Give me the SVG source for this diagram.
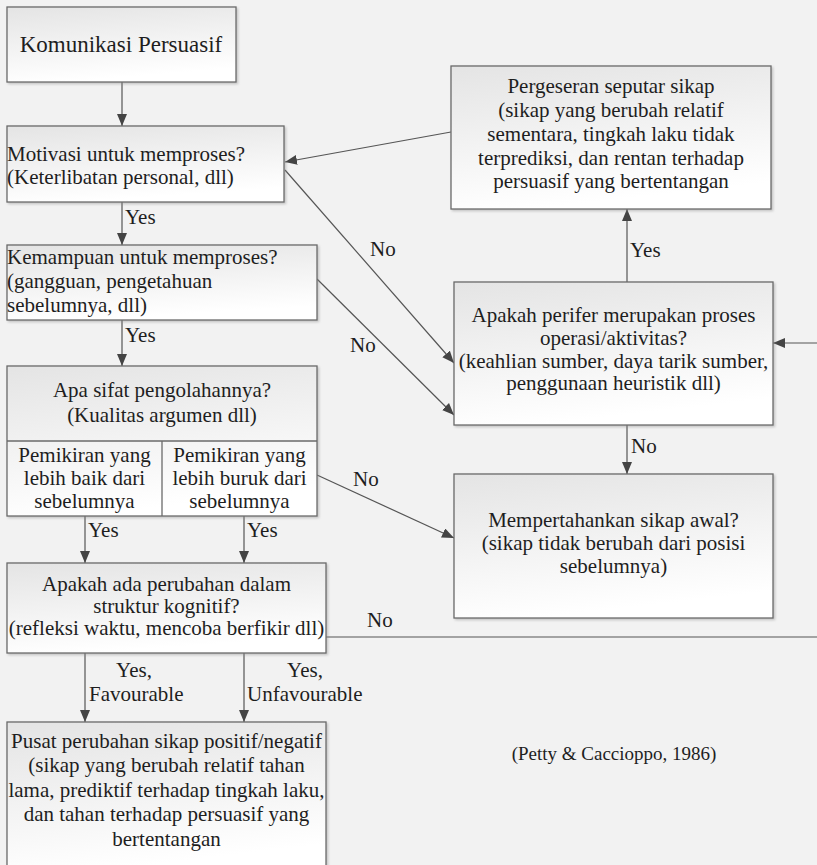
<svg xmlns="http://www.w3.org/2000/svg" width="817" height="865" viewBox="0 0 817 865">
  <style>
    .box { fill: url(#boxFill); stroke: #6a6a6a; stroke-width: 1.3; filter: url(#shadow); }
    .div { stroke: #6a6a6a; stroke-width: 1.3; fill: none; }
    .t { font-family: 'Liberation Serif', 'DejaVu Serif', serif; font-size: 21px; fill: #1e1e1e; }
    .c { text-anchor: middle; }
    .edge { stroke: #555; stroke-width: 1.2; fill: none; marker-end: url(#arrow); }
  </style>
  <defs>
    <linearGradient id="boxFill" x1="0" y1="0" x2="0.25" y2="1">
      <stop offset="0" stop-color="#e4e4e4"/>
      <stop offset="1" stop-color="#ffffff"/>
    </linearGradient>
    <filter id="shadow" x="-5%" y="-5%" width="115%" height="115%">
      <feDropShadow dx="1.5" dy="1.5" stdDeviation="1" flood-color="#888" flood-opacity="0.45"/>
    </filter>
    <marker id="arrow" markerUnits="userSpaceOnUse" markerWidth="14" markerHeight="12" refX="12" refY="5" orient="auto">
      <path d="M0,0 L12,5 L0,10 Z" fill="#444"/>
    </marker>
  </defs>

  <rect width="817" height="865" fill="#f2f2f2"/>

  <!-- connectors -->
  <g id="connectors">
    <line class="edge" x1="122" y1="82" x2="122" y2="126"/>
    <line class="edge" x1="122" y1="202" x2="122" y2="245"/>
    <line class="edge" x1="122" y1="320" x2="122" y2="366"/>
    <line class="edge" x1="85" y1="516" x2="85" y2="563"/>
    <line class="edge" x1="244" y1="516" x2="244" y2="563"/>
    <line class="edge" x1="85" y1="653" x2="85" y2="722"/>
    <line class="edge" x1="244" y1="653" x2="244" y2="722"/>
    <line class="edge" x1="285" y1="170" x2="454" y2="363"/>
    <line class="edge" x1="317" y1="279" x2="454" y2="415"/>
    <line class="edge" x1="317" y1="475" x2="454" y2="538"/>
    <line class="edge" x1="627" y1="282" x2="627" y2="209"/>
    <line class="edge" x1="627" y1="425" x2="627" y2="474"/>
    <line class="edge" x1="451" y1="132" x2="285" y2="162"/>
    <polyline class="edge" points="326,637 822,637 822,343 773,343"/>

    <text class="t" x="125" y="224">Yes</text>
    <text class="t" x="125" y="342">Yes</text>
    <text class="t" x="88" y="537">Yes</text>
    <text class="t" x="247" y="537">Yes</text>
    <text class="t c" x="134" y="677">Yes,</text>
    <text class="t" x="89" y="701">Favourable</text>
    <text class="t c" x="305" y="677">Yes,</text>
    <text class="t" x="247" y="701">Unfavourable</text>
    <text class="t" x="370" y="256">No</text>
    <text class="t" x="350" y="352">No</text>
    <text class="t" x="353" y="486">No</text>
    <text class="t" x="630" y="257">Yes</text>
    <text class="t" x="631" y="453">No</text>
    <text class="t" x="367" y="627">No</text>
  </g>

  <g id="komunikasi">
    <rect class="box" x="7" y="7" width="229" height="75"/>
    <text class="t c" x="121" y="52" style="font-size:23px">Komunikasi Persuasif</text>
  </g>

  <g id="motivasi">
    <rect class="box" x="7" y="126" width="277" height="76"/>
    <text class="t" x="7" y="161">Motivasi untuk memproses?</text>
    <text class="t" x="7" y="184">(Keterlibatan personal, dll)</text>
  </g>

  <g id="kemampuan">
    <rect class="box" x="7" y="245" width="310" height="75"/>
    <text class="t" x="7" y="264">Kemampuan untuk memproses?</text>
    <text class="t" x="7" y="288">(gangguan, pengetahuan</text>
    <text class="t" x="7" y="312">sebelumnya, dll)</text>
  </g>

  <g id="sifat">
    <rect class="box" x="7" y="366" width="310" height="150"/>
    <line class="div" x1="7" y1="441" x2="317" y2="441"/>
    <line class="div" x1="162" y1="441" x2="162" y2="516"/>
    <text class="t c" x="162" y="397">Apa sifat pengolahannya?</text>
    <text class="t c" x="162" y="422">(Kualitas argumen dll)</text>
    <text class="t c" x="84.5" y="462">Pemikiran yang</text>
    <text class="t c" x="84.5" y="485">lebih baik dari</text>
    <text class="t c" x="84.5" y="508">sebelumnya</text>
    <text class="t c" x="239.5" y="462">Pemikiran yang</text>
    <text class="t c" x="239.5" y="485">lebih buruk dari</text>
    <text class="t c" x="239.5" y="508">sebelumnya</text>
  </g>

  <g id="kognitif">
    <rect class="box" x="7" y="563" width="319" height="90"/>
    <text class="t c" x="166.5" y="591">Apakah ada perubahan dalam</text>
    <text class="t c" x="166.5" y="613">struktur kognitif?</text>
    <text class="t c" x="166.5" y="635">(refleksi waktu, mencoba berfikir dll)</text>
  </g>

  <g id="pusat">
    <rect class="box" x="7" y="722" width="319" height="150"/>
    <text class="t c" x="166.5" y="748">Pusat perubahan sikap positif/negatif</text>
    <text class="t c" x="166.5" y="772">(sikap yang berubah relatif tahan</text>
    <text class="t c" x="166.5" y="797">lama, prediktif terhadap tingkah laku,</text>
    <text class="t c" x="166.5" y="821">dan tahan terhadap persuasif yang</text>
    <text class="t c" x="166.5" y="846">bertentangan</text>
  </g>

  <g id="pergeseran">
    <rect class="box" x="451" y="66" width="320" height="143"/>
    <text class="t c" x="611" y="93">Pergeseran seputar sikap</text>
    <text class="t c" x="611" y="117">(sikap yang berubah relatif</text>
    <text class="t c" x="611" y="141">sementara, tingkah laku tidak</text>
    <text class="t c" x="611" y="165">terprediksi, dan rentan terhadap</text>
    <text class="t c" x="611" y="188">persuasif yang bertentangan</text>
  </g>

  <g id="perifer">
    <rect class="box" x="454" y="282" width="319" height="143"/>
    <text class="t c" x="613.5" y="322">Apakah perifer merupakan proses</text>
    <text class="t c" x="613.5" y="345">operasi/aktivitas?</text>
    <text class="t c" x="613.5" y="368">(keahlian sumber, daya tarik sumber,</text>
    <text class="t c" x="613.5" y="390">penggunaan heuristik dll)</text>
  </g>

  <g id="mempertahankan">
    <rect class="box" x="454" y="474" width="319" height="144"/>
    <text class="t c" x="613.5" y="527">Mempertahankan sikap awal?</text>
    <text class="t c" x="613.5" y="550">(sikap tidak berubah dari posisi</text>
    <text class="t c" x="613.5" y="573">sebelumnya)</text>
  </g>

  <g id="sumber">
    <text class="t c" x="614" y="760" style="font-size:19px">(Petty &amp; Caccioppo, 1986)</text>
  </g>
</svg>
